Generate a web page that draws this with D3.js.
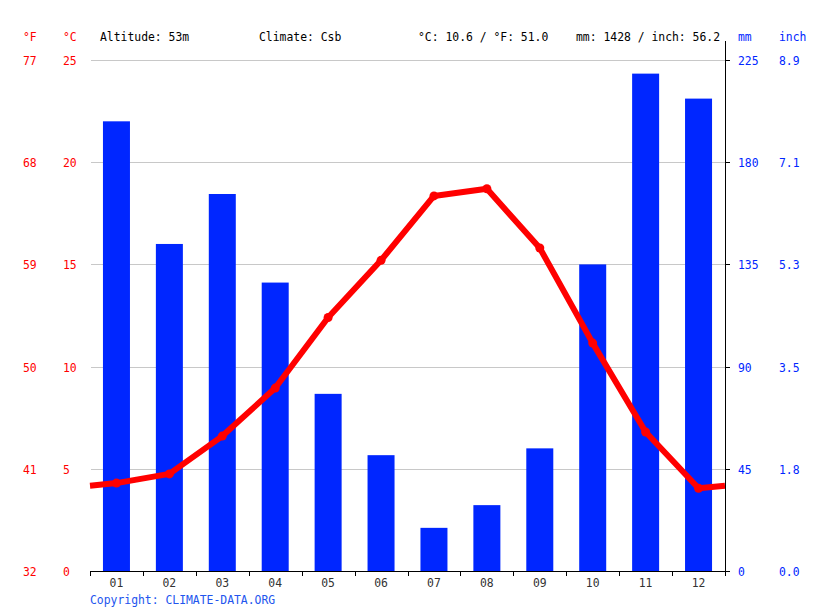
<!DOCTYPE html>
<html>
<head>
<meta charset="utf-8">
<script src="https://cdn.jsdelivr.net/npm/d3@7"></script>
<style>
  body { margin: 0; background: #fff; }
  text { font-family: "DejaVu Sans Mono", monospace; font-size: 11.4px; }
</style>
</head>
<body>
<div id="chart"></div>
<script>
const months = ['01', '02', '03', '04', '05', '06', '07', '08', '09', '10', '11', '12'];
const precipMm = [198, 144, 166, 127, 78, 51, 19, 29, 54, 135, 219, 208];
const tempC = [4.3, 4.75, 6.6, 8.95, 12.4, 15.2, 18.35, 18.7, 15.8, 11.15, 6.8, 4.05];
const celsiusTicks = [0, 5, 10, 15, 20, 25];
const fahrenheitTicks = ['32', '41', '50', '59', '68', '77'];
const mmTicks = [0, 45, 90, 135, 180, 225];
const inchTicks = ['0.0', '1.8', '3.5', '5.3', '7.1', '8.9'];
const header = ['Altitude: 53m', 'Climate: Csb', '°C: 10.6 / °F: 51.0', 'mm: 1428 / inch: 56.2'];

const W = 815, H = 611;
const plotL = 90, plotR = 725, plotT = 60, plotB = 571;
const red = '#ff0000', blue = '#0026ff';

const svg = d3.select('#chart').append('svg')
  .attr('width', W).attr('height', H);

/* scales */
const x = d3.scaleBand().domain(months).range([plotL, plotR]);
const yT = d3.scaleLinear().domain([0, 25]).range([plotB, plotT]);
const yP = d3.scaleLinear().domain([0, 225]).range([plotB, plotT]);

/* grid */
svg.append('g')
  .selectAll('line')
  .data(celsiusTicks.filter(d => d > 0))
  .join('line')
  .attr('x1', plotL + 1).attr('x2', plotR)
  .attr('y1', d => Math.round(yT(d)) + 0.5).attr('y2', d => Math.round(yT(d)) + 0.5)
  .attr('stroke', '#c8c8c8').attr('stroke-width', 1);

/* bars */
const barW = 27;
svg.append('g')
  .selectAll('rect')
  .data(precipMm)
  .join('rect')
  .attr('x', (d, i) => x(months[i]) + x.bandwidth() / 2 - barW / 2)
  .attr('y', d => yP(d))
  .attr('width', barW)
  .attr('height', d => plotB - yP(d))
  .attr('fill', blue);

/* temperature line, wrapping at both edges */
const edge = (tempC[0] + tempC[11]) / 2;
const pts = [[plotL, yT(edge)]]
  .concat(tempC.map((d, i) => [x(months[i]) + x.bandwidth() / 2, yT(d)]))
  .concat([[plotR, yT(edge)]]);

svg.append('path')
  .attr('d', d3.line()(pts))
  .attr('fill', 'none')
  .attr('stroke', red)
  .attr('stroke-width', 6)
  .attr('stroke-linejoin', 'round');

svg.append('g')
  .selectAll('circle')
  .data(tempC)
  .join('circle')
  .attr('cx', (d, i) => x(months[i]) + x.bandwidth() / 2)
  .attr('cy', d => yT(d))
  .attr('r', 4.5)
  .attr('fill', red);

/* bottom axis */
const ax = svg.append('g');
ax.append('line')
  .attr('x1', plotL).attr('x2', plotR + 1)
  .attr('y1', plotB + 0.5).attr('y2', plotB + 0.5)
  .attr('stroke', '#000');
ax.selectAll('line.t')
  .data(d3.range(13))
  .join('line')
  .attr('class', 't')
  .attr('x1', i => Math.round(plotL + i * x.step()) + 0.5)
  .attr('x2', i => Math.round(plotL + i * x.step()) + 0.5)
  .attr('y1', plotB).attr('y2', plotB + 5)
  .attr('stroke', '#000');
ax.selectAll('text')
  .data(months)
  .join('text')
  .attr('x', d => x(d) + x.bandwidth() / 2)
  .attr('y', 587)
  .attr('text-anchor', 'middle')
  .attr('fill', '#333')
  .text(d => d);

/* right axis */
const ra = svg.append('g');
ra.append('line')
  .attr('x1', plotR + 0.5).attr('x2', plotR + 0.5)
  .attr('y1', 41).attr('y2', plotB + 5)
  .attr('stroke', '#000');
ra.selectAll('line.t')
  .data(mmTicks)
  .join('line')
  .attr('class', 't')
  .attr('x1', plotR).attr('x2', plotR + 5)
  .attr('y1', d => Math.round(yP(d)) + 0.5).attr('y2', d => Math.round(yP(d)) + 0.5)
  .attr('stroke', '#000');
ra.selectAll('text.mm')
  .data(mmTicks)
  .join('text')
  .attr('class', 'mm')
  .attr('x', 738).attr('y', d => yP(d) + 5)
  .attr('fill', blue)
  .text(d => d);
ra.selectAll('text.in')
  .data(inchTicks)
  .join('text')
  .attr('class', 'in')
  .attr('x', 779).attr('y', (d, i) => yP(mmTicks[i]) + 5)
  .attr('fill', blue)
  .text(d => d);

/* left labels */
const la = svg.append('g');
la.selectAll('text.c')
  .data(celsiusTicks)
  .join('text')
  .attr('class', 'c')
  .attr('x', 63).attr('y', d => yT(d) + 5)
  .attr('fill', red)
  .text(d => d);
la.selectAll('text.f')
  .data(fahrenheitTicks)
  .join('text')
  .attr('class', 'f')
  .attr('x', 23).attr('y', (d, i) => yT(celsiusTicks[i]) + 5)
  .attr('fill', red)
  .text(d => d);

/* header */
const hy = 41;
svg.append('text').attr('x', 23).attr('y', hy).attr('fill', red).text('°F');
svg.append('text').attr('x', 63).attr('y', hy).attr('fill', red).text('°C');
svg.append('text').attr('x', 738).attr('y', hy).attr('fill', blue).text('mm');
svg.append('text').attr('x', 779).attr('y', hy).attr('fill', blue).text('inch');
const hx = [100, 259, 418, 576];
header.forEach((t, i) => {
  svg.append('text').attr('x', hx[i]).attr('y', hy).attr('fill', '#000').text(t);
});

svg.append('text')
  .attr('x', 90).attr('y', 604)
  .attr('fill', '#2255ee')
  .text('Copyright: CLIMATE-DATA.ORG');
</script>
</body>
</html>
